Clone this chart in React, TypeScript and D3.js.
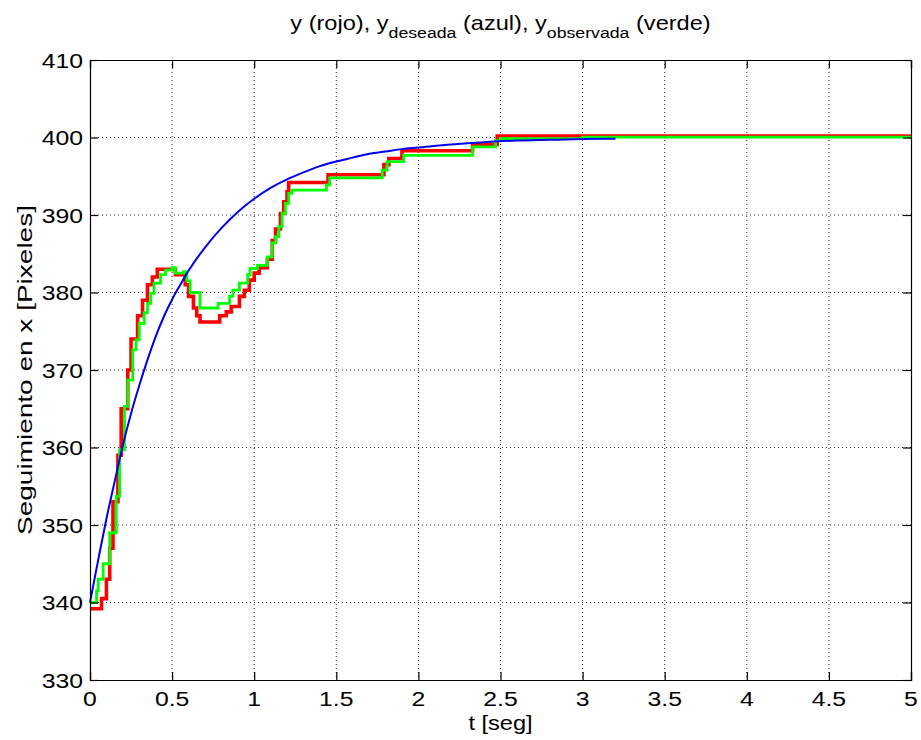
import React, { useEffect, useRef } from 'react'
import * as d3 from 'd3'

// t [seg], valor [pixeles]
const yDeseada: [number, number][] = [
  [0, 340], [0.05, 345.5], [0.1, 350.8], [0.15, 355.6], [0.2, 360.3], [0.25, 364.4],
  [0.3, 368], [0.35, 371.3], [0.4, 374.3], [0.45, 376.9], [0.5, 379.1], [0.55, 381],
  [0.6, 382.8], [0.7, 385.8], [0.8, 388.3], [0.9, 390.4], [1.0, 392.1], [1.1, 393.5],
  [1.2, 394.6], [1.3, 395.5], [1.4, 396.3], [1.5, 396.9], [1.6, 397.4], [1.7, 397.9],
  [1.8, 398.2], [1.9, 398.5], [2.0, 398.7], [2.2, 399.1], [2.4, 399.4], [2.6, 399.6],
  [2.8, 399.7], [3.0, 399.8], [3.2, 399.85]
]

const yRojo: [number, number][] = [
  [0, 339.2], [0.07, 340.5], [0.1, 343], [0.12, 347], [0.14, 353], [0.17, 359],
  [0.19, 365], [0.23, 370], [0.25, 374], [0.29, 377], [0.32, 379], [0.35, 381],
  [0.38, 382], [0.41, 383], [0.52, 382.3], [0.58, 381], [0.6, 379.5], [0.63, 378],
  [0.65, 377], [0.67, 376.2], [0.79, 377], [0.83, 377.5], [0.86, 378.2], [0.91, 379.5],
  [0.94, 380.3], [0.97, 381.6], [1.0, 382.5], [1.03, 383.2], [1.08, 384.3], [1.11, 386.7],
  [1.13, 388.2], [1.16, 390.2], [1.18, 391.7], [1.2, 393], [1.21, 394.2], [1.45, 395.2],
  [1.79, 396.5], [1.82, 397.3], [1.9, 398.3], [2.33, 399.1], [2.48, 400.2], [5, 400.2]
]

const yObservada: [number, number][] = [
  [0, 340], [0.04, 341.5], [0.05, 343], [0.08, 345], [0.12, 349], [0.16, 353.7],
  [0.18, 359.7], [0.21, 365.3], [0.23, 368.7], [0.26, 372.6], [0.28, 373.9], [0.3, 376],
  [0.33, 377.4], [0.35, 378.6], [0.37, 379.9], [0.39, 381.2], [0.43, 382.3], [0.46, 382.9],
  [0.5, 383.2], [0.52, 382.5], [0.57, 382.7], [0.59, 381.5], [0.61, 380], [0.67, 378],
  [0.78, 378.6], [0.85, 379.5], [0.87, 380.3], [0.91, 381.2], [0.96, 382.3], [0.975, 383.1],
  [1.02, 383.5], [1.08, 384.6], [1.11, 386.4], [1.13, 387.2], [1.15, 388.5], [1.17, 390.2],
  [1.19, 391.5], [1.21, 392.8], [1.23, 393.2], [1.44, 393.9], [1.46, 394.8], [1.78, 395.8],
  [1.81, 396.9], [1.91, 397.7], [2.33, 398.8], [2.47, 399.6], [2.5, 399.85], [3.0, 400.05],
  [5, 400.05]
]

const xTicks = [0, 0.5, 1, 1.5, 2, 2.5, 3, 3.5, 4, 4.5, 5]
const yTicks = [330, 340, 350, 360, 370, 380, 390, 400, 410]

export default function App() {
  const ref = useRef<SVGSVGElement>(null)

  useEffect(() => {
    const width = 921, height = 740
    const margin = { top: 60, right: 10, bottom: 60, left: 90 }
    const w = width - margin.left - margin.right
    const h = height - margin.top - margin.bottom
    const font = 'Liberation Sans, Arial, Helvetica, sans-serif'
    const stretch = 1.18 // la fuente del original es mas ancha que Arial

    const svg = d3.select(ref.current)
    svg.selectAll('*').remove()

    const g = svg.append('g')
      .attr('transform', 'translate(' + margin.left + ',' + margin.top + ')')

    const x = d3.scaleLinear().domain([0, 5]).range([0, w])
    const y = d3.scaleLinear().domain([330, 410]).range([h, 0])

    // grid
    g.append('g').selectAll('line')
      .data(xTicks.slice(1, -1))
      .enter().append('line')
      .attr('x1', d => x(d)).attr('x2', d => x(d))
      .attr('y1', 0).attr('y2', h)
      .attr('stroke', '#333').attr('stroke-width', 1)
      .attr('stroke-dasharray', '1,3')
    g.append('g').selectAll('line')
      .data(yTicks.slice(1, -1))
      .enter().append('line')
      .attr('y1', d => y(d)).attr('y2', d => y(d))
      .attr('x1', 0).attr('x2', w)
      .attr('stroke', '#333').attr('stroke-width', 1)
      .attr('stroke-dasharray', '1,3')

    const line = d3.line<[number, number]>()
      .x(d => x(d[0])).y(d => y(d[1]))

    g.append('path').datum(yRojo)
      .attr('d', line.curve(d3.curveStepAfter))
      .attr('fill', 'none').attr('stroke', '#f00').attr('stroke-width', 3.6)
    g.append('path').datum(yObservada)
      .attr('d', line.curve(d3.curveStepAfter))
      .attr('fill', 'none').attr('stroke', '#0f0').attr('stroke-width', 2.8)
    g.append('path').datum(yDeseada)
      .attr('d', line.curve(d3.curveMonotoneX))
      .attr('fill', 'none').attr('stroke', '#0000f0').attr('stroke-width', 2)

    // axes (estilo MATLAB: ticks hacia dentro en los cuatro lados)
    const tl = 8
    g.append('g').attr('transform', 'translate(0,' + h + ')')
      .call(d3.axisBottom(x).tickValues(xTicks).tickSize(-tl).tickFormat(() => ''))
    g.append('g')
      .call(d3.axisTop(x).tickValues(xTicks).tickSize(-tl).tickFormat(() => ''))
    g.append('g')
      .call(d3.axisLeft(y).tickValues(yTicks).tickSize(-tl).tickFormat(() => ''))
    g.append('g').attr('transform', 'translate(' + w + ',0)')
      .call(d3.axisRight(y).tickValues(yTicks).tickSize(-tl).tickFormat(() => ''))

    g.selectAll('.domain').attr('stroke', '#000').attr('stroke-width', 1.2)
    g.selectAll('.tick line').attr('stroke', '#000').attr('stroke-width', 1.2)

    // tick labels
    g.append('g').selectAll('text')
      .data(xTicks)
      .enter().append('text')
      .attr('transform', d => 'translate(' + x(d) + ',' + (h + 26) + ') scale(' + stretch + ',1)')
      .attr('text-anchor', 'middle')
      .attr('font-family', font).attr('font-size', 21)
      .text(d => String(d))
    g.append('g').selectAll('text')
      .data(yTicks)
      .enter().append('text')
      .attr('transform', d => 'translate(-7,' + (y(d) + 7.5) + ') scale(' + stretch + ',1)')
      .attr('text-anchor', 'end')
      .attr('font-family', font).attr('font-size', 21)
      .text(d => String(d))

    // labels
    const title = svg.append('text')
      .attr('transform', 'translate(' + (margin.left + w / 2) + ',30) scale(' + stretch + ',1)')
      .attr('text-anchor', 'middle')
      .attr('font-family', font).attr('font-size', 20)
    title.append('tspan').text('y (rojo), y')
    title.append('tspan').attr('font-size', 15).attr('dy', 8).text('deseada')
    title.append('tspan').attr('dy', -8).text(' (azul), y')
    title.append('tspan').attr('font-size', 15).attr('dy', 8).text('observada')
    title.append('tspan').attr('dy', -8).text(' (verde)')

    svg.append('text')
      .attr('transform', 'translate(' + (margin.left + w / 2) + ',730) scale(' + stretch + ',1)')
      .attr('text-anchor', 'middle')
      .attr('font-family', font).attr('font-size', 20)
      .text('t [seg]')

    svg.append('text')
      .attr('transform', 'translate(32,' + (margin.top + h / 2) + ') rotate(-90) scale(1.4,1)')
      .attr('text-anchor', 'middle')
      .attr('font-family', font).attr('font-size', 20)
      .text('Seguimiento en x [Pixeles]')
  }, [])

  return (
    <svg ref={ref} width={921} height={740}
      style={{ position: 'absolute', left: 0, top: 0, background: '#fff' }} />
  )
}
